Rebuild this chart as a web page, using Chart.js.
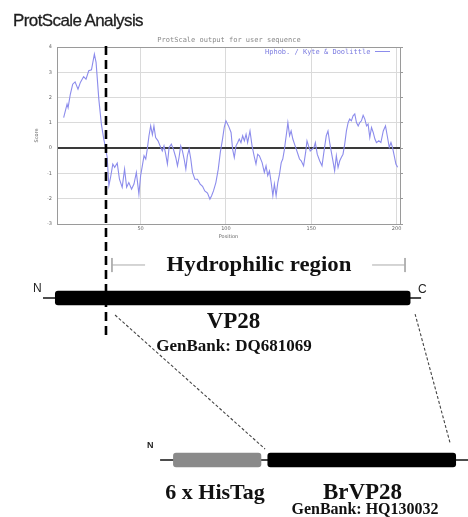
<!DOCTYPE html>
<html>
<head>
<meta charset="utf-8">
<script src="https://cdn.jsdelivr.net/npm/chart.js@4/dist/chart.umd.min.js"></script>
<style>
  html, body { margin:0; padding:0; background:#fff; }
  #wrap { position:relative; width:468px; height:517px; overflow:hidden; background:#fff; }
  canvas { position:absolute; left:0; top:0; }
  #c1 { z-index:1; }
  #c2 { z-index:2; pointer-events:none; }
  .t { position:absolute; z-index:3; white-space:nowrap; line-height:1; }
  .serif { font-family:"Liberation Serif","Times New Roman",serif; font-weight:bold; color:#111; }
  .c { transform:translateX(-50%); }
</style>
</head>
<body>
<div id="wrap">
  <canvas id="c1" width="468" height="250"></canvas>
  <canvas id="c2" width="468" height="517"></canvas>

  <div class="t" style="left:13px; top:11.5px; font-family:'Liberation Sans Narrow','Liberation Sans',sans-serif; font-size:17px; letter-spacing:-0.6px; color:#1e1e1e; -webkit-text-stroke:0.3px #1e1e1e;">ProtScale Analysis</div>
  <div class="t c" style="left:229px; top:36.5px; font-family:'DejaVu Sans Mono',monospace; font-size:7px; color:#888;">ProtScale output for user sequence</div>
  <div class="t" style="left:265px; top:48.5px; font-family:'DejaVu Sans Mono',monospace; font-size:7px; color:#7a7ae0;">Hphob. / Kyte &amp; Doolittle <span style="display:inline-block; width:15px; border-top:1px solid #8c8cec; vertical-align:middle;"></span></div>

  <div class="t serif c" style="left:258.5px; top:253.5px; font-size:20px; transform:translateX(-50%) scaleX(1.14);">Hydrophilic region</div>
  <div class="t" style="left:33px; top:281.5px; font-family:'Liberation Sans',sans-serif; font-size:12px; color:#222;">N</div>
  <div class="t" style="left:418px; top:283px; font-family:'Liberation Sans',sans-serif; font-size:12px; color:#222;">C</div>
  <div class="t serif c" style="left:233.5px; top:309px; font-size:23px;">VP28</div>
  <div class="t serif c" style="left:234px; top:337px; font-size:17px;">GenBank: DQ681069</div>

  <div class="t" style="left:147px; top:441px; font-family:'Liberation Sans',sans-serif; font-weight:bold; font-size:9px; color:#222;">N</div>
  <div class="t serif c" style="left:215px; top:481px; font-size:22px;">6 x HisTag</div>
  <div class="t serif c" style="left:362.5px; top:480px; font-size:23px;">BrVP28</div>
  <div class="t serif c" style="left:365px; top:500.5px; font-size:16px;">GenBank: HQ130032</div>
</div>

<script>
// ---- ProtScale (Kyte & Doolittle) hydropathy profile ----
const positions = [4.9,6.9,7.5,8.8,10.2,11.6,13.3,14.7,16.6,18,19.6,21.2,22.9,23.9,25.5,27,28.4,29.4,30.4,31.4,32.4,33.7,34.8,36.3,37.6,39.2,40.6,41.8,43.1,44.7,46.1,47.5,49,50,51,52,53,53.9,54.9,55.9,56.9,57.8,58.8,60.2,61.4,62.7,63.7,64.7,65.7,66.7,68,69.2,70.6,71.6,72.5,73.5,74.5,75.5,76.5,77.4,78.4,79.4,80.4,81.8,83.3,84.9,86.3,87.6,89.2,90.6,91.6,92.7,94.1,95.5,96.7,98,99,100,101.5,103,103.9,104.9,105.9,106.9,107.8,108.8,109.8,110.8,111.8,112.7,114.1,115.3,116.7,117.6,118.6,119.6,121.2,122.5,123.5,124.5,125.5,126.5,127.5,128.4,129.4,130.4,131.4,132.4,133.3,134.3,134.9,135.7,136.3,137.3,138.2,139.2,140.2,141.2,142.2,143.1,144.1,145.5,146.7,147.5,148.4,149.4,150.6,151.6,152.4,153.5,154.9,156.3,157.5,158.8,159.8,160.8,161.8,162.7,163.7,164.7,165.7,166.7,167.6,168.6,169.6,170.6,171.6,172.5,173.5,174.5,175.5,176.5,177.5,178.4,179.4,180.4,181.4,182.4,183.3,184.3,185.3,186.3,187.3,188.2,189.6,190.8,192.2,193.5,194.7,195.7,196.7,197.6,198.6,199.6,200.6];
const scores = [1.21,1.74,1.6,2.13,2.53,2.62,2.33,2.6,2.83,2.73,3.06,3.1,3.72,3.39,1.94,0.95,0.36,0.03,-0.36,-1.49,-1.15,-0.63,-0.76,-0.59,-1.23,-1.55,-0.83,-1.55,-1.36,-1.62,-1.42,-0.96,-1.82,-1.09,-0.7,-0.3,-0.43,-0.04,0.49,0.88,0.53,0.88,0.42,0.29,0.09,-0.11,0.09,-0.24,-0.63,0.03,0.16,-0.04,-0.37,-0.7,-0.37,0.09,-0.11,-0.43,-0.83,-0.3,-0.04,-0.43,-0.96,-1.23,-1.23,-1.42,-1.51,-1.69,-1.78,-2.02,-1.88,-1.69,-1.36,-0.83,-0.17,0.36,0.82,1.08,0.88,0.62,-0.04,-0.37,0.09,0.22,0.36,0.22,0.49,0.29,0.55,0.22,0.68,0.09,-0.37,-0.63,-0.24,-0.3,-0.57,-0.96,-0.7,-1.09,-0.9,-1.36,-1.88,-1.42,-1.88,-1.36,-1.03,-0.57,-0.43,-0.04,0.29,0.68,1.01,0.49,0.68,0.36,0.16,-0.04,-0.24,-0.43,-0.5,-0.7,-0.17,0.29,0.09,-0.11,-0.04,0.03,0.22,-0.24,-0.5,-0.7,-0.11,0.49,0.68,0.22,-0.17,-0.5,-0.9,-0.3,-0.76,-0.5,-0.37,-0.24,0.16,0.68,1.01,1.15,1.08,1.28,1.35,1.01,0.88,1.01,1.08,1.3,1.15,0.88,0.95,0.42,0.82,0.62,0.36,0.22,0.29,0.22,0.68,0.88,0.42,0.03,0.22,0.03,-0.3,-0.63,-0.76];
const xTickValues = [50, 100, 150, 200];
const yTickMin = -3, yTickMax = 4;
const xMin = 1, xMax = 202;

// ---- Construct schematic, in amino-acid positions on the same x axis ----
const constructNames  = ['VP28', '6 x HisTag', 'BrVP28'];
const constructStarts = [0, 69.2, 124.5];
const constructEnds   = [207.9, 120.5, 234.6];
const constructRows   = [0, 1, 1];
const hydrophilicStart = 33.2, hydrophilicEnd = 204.9;
const cutPosition = 29.7;

// ---------------- Chart 1: hydropathy plot ----------------
const GRID = '#dadada', AXIS = '#9a9a9a', TICKC = '#666';
new Chart(document.getElementById('c1'), {
  type: 'line',
  data: {
    datasets: [{
      label: 'Hphob. / Kyte & Doolittle',
      data: positions.map((p, i) => ({ x: p, y: scores[i] })),
      borderColor: '#8c8cec', borderWidth: 1.1, pointRadius: 0, tension: 0, fill: false
    }]
  },
  options: {
    responsive: false, animation: false, devicePixelRatio: 1,
    layout: { padding: { left: 0, right: 68, top: 47, bottom: 0 } },
    plugins: { legend: { display: false }, tooltip: { enabled: false } },
    scales: {
      x: {
        type: 'linear', min: xMin, max: xMax,
        afterBuildTicks: s => { s.ticks = xTickValues.map(v => ({ value: v })); },
        afterFit: s => { s.height = 26; },
        grid: { color: GRID, drawTicks: false },
        border: { color: AXIS },
        ticks: { font: { size: 5, family: 'DejaVu Sans' }, color: TICKC, padding: 2, maxRotation: 0, autoSkip: false },
        title: { display: true, text: 'Position', font: { size: 5, family: 'DejaVu Sans' }, color: TICKC, padding: { top: 0, bottom: 10.5 } }
      },
      y: {
        type: 'linear', min: yTickMin, max: yTickMax,
        afterFit: s => { s.width = 57; },
        grid: {
          color: c => (c.tick && c.tick.value === 0) ? '#3a3a3a' : GRID,
          lineWidth: c => (c.tick && c.tick.value === 0) ? 2 : 1,
          drawTicks: false
        },
        border: { color: AXIS },
        ticks: { stepSize: 1, font: { size: 5, family: 'DejaVu Sans' }, color: TICKC, padding: 5 },
        title: { display: true, text: 'Score', font: { size: 5, family: 'DejaVu Sans' }, color: TICKC, padding: { top: 34, bottom: 0 } }
      },
      x2: {
        type: 'linear', position: 'top', min: xMin, max: xMax,
        afterFit: s => { s.height = 0; },
        ticks: { display: false },
        grid: { drawOnChartArea: false, drawTicks: false },
        border: { color: AXIS }
      },
      y2: {
        type: 'linear', position: 'right', min: yTickMin, max: yTickMax,
        afterFit: s => { s.width = 0; },
        ticks: { display: false, stepSize: 1 },
        grid: { drawOnChartArea: false, drawTicks: true, tickLength: 3, color: AXIS },
        border: { color: AXIS }
      }
    }
  }
});

// ---------------- Chart 2: construct schematic overlay ----------------
// x axis uses the same amino-acid scale as the plot above; y is a track index.
const seg = (x1, y1, x2, y2) => [{ x: x1, y: y1 }, { x: x2, y: y2 }];
const lineDs = (data, color, width, dash) => ({
  type: 'line', data, borderColor: color, borderWidth: width, borderDash: dash || [],
  pointRadius: 0, tension: 0, fill: false, clip: false
});
const barColors = ['#000000', '#8a8a8a', '#000000'];

new Chart(document.getElementById('c2'), {
  type: 'scatter',
  data: {
    datasets: [
      // cut-site dashed marker (from the plot down through VP28)
      lineDs(seg(cutPosition, -1.556, cutPosition, 0.247), '#000', 2.6, [9, 5]),
      // connecting dashed lines
      lineDs(seg(35.0, 0.105, 122.9, 0.932), '#444', 1.1, [3, 2]),
      lineDs(seg(210.8, 0.099, 231.3, 0.895), '#444', 1.1, [3, 2]),
      // construct bars
      {
        type: 'bar', indexAxis: 'y',
        data: constructNames.map((n, i) => ({ x: [constructStarts[i], constructEnds[i]], y: constructRows[i] })),
        backgroundColor: barColors, borderWidth: 0, borderRadius: 3, borderSkipped: false,
        barThickness: 14, grouped: false, clip: false
      },
      // hydrophilic region bracket
      lineDs(seg(hydrophilicStart, -0.2037, 52.6, -0.2037), '#aaa', 1),
      lineDs(seg(185.6, -0.2037, hydrophilicEnd, -0.2037), '#aaa', 1),
      lineDs(seg(hydrophilicStart, -0.247, hydrophilicStart, -0.160), '#aaa', 1),
      lineDs(seg(hydrophilicEnd, -0.247, hydrophilicEnd, -0.160), '#aaa', 1),
      // backbone lines
      lineDs(seg(-7.2, 0, 214.3, 0), '#111', 1.6),
      lineDs(seg(61.4, 1, 241.8, 1), '#111', 1.6)
    ]
  },
  options: {
    responsive: false, animation: false, devicePixelRatio: 1,
    layout: { padding: 0 },
    plugins: { legend: { display: false }, tooltip: { enabled: false } },
    scales: {
      x: { type: 'linear', display: false, offset: false, min: -32.4, max: 241.8 },
      y: { type: 'linear', display: false, offset: false, min: -1.8395, max: 1.3519, reverse: true }
    }
  }
});
</script>
</body>
</html>
